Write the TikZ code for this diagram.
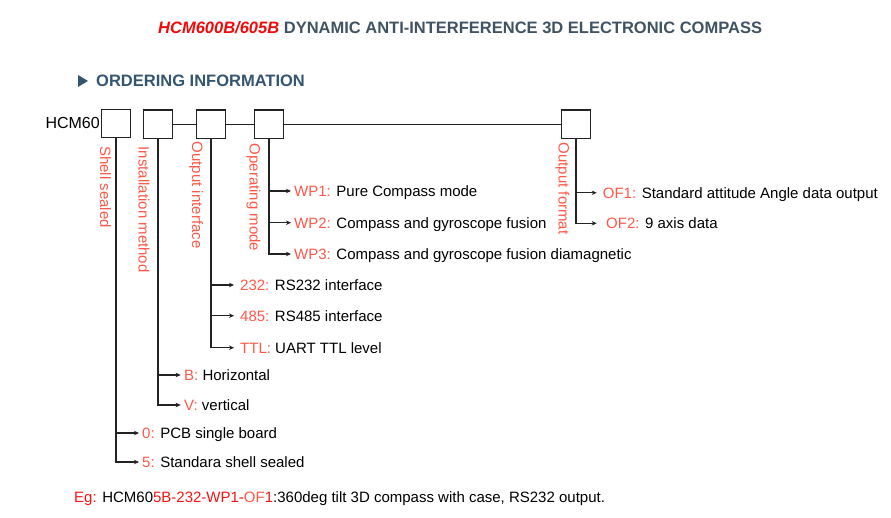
\documentclass[tikz,border=0pt]{standalone}
\usepackage{fontspec}
\setmainfont{Liberation Sans}
\usetikzlibrary{arrows.meta}
\definecolor{lred}{RGB}{255,88,72}
\definecolor{egred}{RGB}{245,20,20}
\definecolor{tred}{RGB}{240,10,10}
\definecolor{tgray}{RGB}{65,82,98}
\definecolor{hblue}{RGB}{52,84,112}
\definecolor{ink}{RGB}{35,35,35}
\tikzset{
  box/.style={draw=ink, line width=1.3pt, minimum size=28.5pt, inner sep=0pt, anchor=north west},
  conn/.style={draw=ink, line width=1.2pt},
  arr/.style={conn, -{Stealth[length=5pt,width=4.5pt]}},
  lab/.style={anchor=west, inner sep=0pt, text height=10.7pt, text depth=0pt,
    font=\fontsize{15}{18}\selectfont, text=black},
  vlab/.style={rotate=-90, anchor=base west, inner sep=0pt,
    font=\fontsize{15}{18}\selectfont, text=lred},
  plain/.style={inner sep=0pt, anchor=base west},
}
\begin{document}
\begin{tikzpicture}[x=1pt,y=-1pt]
\useasboundingbox (0,0) rectangle (891,518);

% title
\node[plain, font=\bfseries\fontsize{16.5}{20}\selectfont] (title) at (158,33.9)
  {\textcolor{tred}{\itshape HCM600B/605B} \textcolor{tgray}{DYNAMIC ANTI-INTERFERENCE 3D ELECTRONIC COMPASS}};

% heading
\fill[hblue] (78,75) -- (88,81) -- (78,87) -- cycle;
\node[plain, font=\bfseries\fontsize{16.5}{20}\selectfont, text=hblue] (head) at (96,86.9)
  {ORDERING INFORMATION};

% part number
\node[inner sep=0pt, anchor=base east, font=\fontsize{16}{19}\selectfont] (hcm) at (100,128.7) {HCM60};

\node[box] (b1) at (101,108.7) {};
\node[box] (b2) at (143,109.3) {};
\node[box] (b3) at (196,109.3) {};
\node[box] (b4) at (254,109.3) {};
\node[box] (b5) at (561,109.3) {};

\draw[conn] (b2.east) -- (b3.west);
\draw[conn] (b3.east) -- (b4.west);
\draw[conn] (b4.east) -- (b5.west);

% vertical captions
\node[vlab] (v1) at (100,146) {Shell sealed};
\node[vlab] (v2) at (138.5,146.5) {Installation method};
\node[vlab] (v3) at (192,141.5) {Output interface};
\node[vlab] (v4) at (249.5,143.5) {Operating mode};
\node[vlab] (v5) at (558.5,142.5) {Output format};

% option labels
\node[lab] (wp1) at (294,191) {\textcolor{lred}{WP1:} Pure Compass mode};
\node[lab] (wp2) at (294,222.7) {\textcolor{lred}{WP2:} Compass and gyroscope fusion};
\node[lab] (wp3) at (294,254) {\textcolor{lred}{WP3:} Compass and gyroscope fusion diamagnetic};

\node[lab] (of1) at (602.7,192.8) {\textcolor{lred}{OF1:} Standard attitude Angle data output};
\node[lab] (of2) at (606,223.3) {\textcolor{lred}{OF2:} 9 axis data};

\node[lab] (r232) at (240,285) {\textcolor{lred}{232:} RS232 interface};
\node[lab] (r485) at (240,315.7) {\textcolor{lred}{485:} RS485 interface};
\node[lab] (ttl) at (240,347.7) {\textcolor{lred}{TTL:} UART TTL level};

\node[lab] (bh) at (184,375) {\textcolor{lred}{B:} Horizontal};
\node[lab] (vv) at (184,405) {\textcolor{lred}{V:} vertical};

\node[lab] (z0) at (142,433) {\textcolor{lred}{0:} PCB single board};
\node[lab] (s5) at (142,462) {\textcolor{lred}{5:} Standara shell sealed};

% connectors
\draw[arr, shorten >=3pt] (b4.south) |- (wp1.west);
\draw[arr, shorten >=3pt] (b4.south) |- (wp2.west);
\draw[arr, shorten >=3pt] (b4.south) |- (wp3.west);

\draw[arr, shorten >=6pt] (b5.south) |- (of1.west);
\draw[arr, shorten >=9.3pt] (b5.south) |- (of2.west);

\draw[arr, shorten >=6pt] (b3.south) |- (r232.west);
\draw[arr, shorten >=6pt] (b3.south) |- (r485.west);
\draw[arr, shorten >=6pt] (b3.south) |- (ttl.west);

\draw[arr, shorten >=3.3pt] (b2.south) |- (bh.west);
\draw[arr, shorten >=3.3pt] (b2.south) |- (vv.west);

\draw[arr, shorten >=3pt] (b1.south) |- (z0.west);
\draw[arr, shorten >=3pt] (b1.south) |- (s5.west);

% example
\node[plain, font=\fontsize{15}{18}\selectfont] (eg) at (74,502.4)
  {\textcolor{egred}{Eg:} HCM60\textcolor{egred}{5B-232-WP1-}\textcolor{lred}{OF}\textcolor{egred}{1}:360deg tilt 3D compass with case, RS232 output.};
\end{tikzpicture}
\end{document}
